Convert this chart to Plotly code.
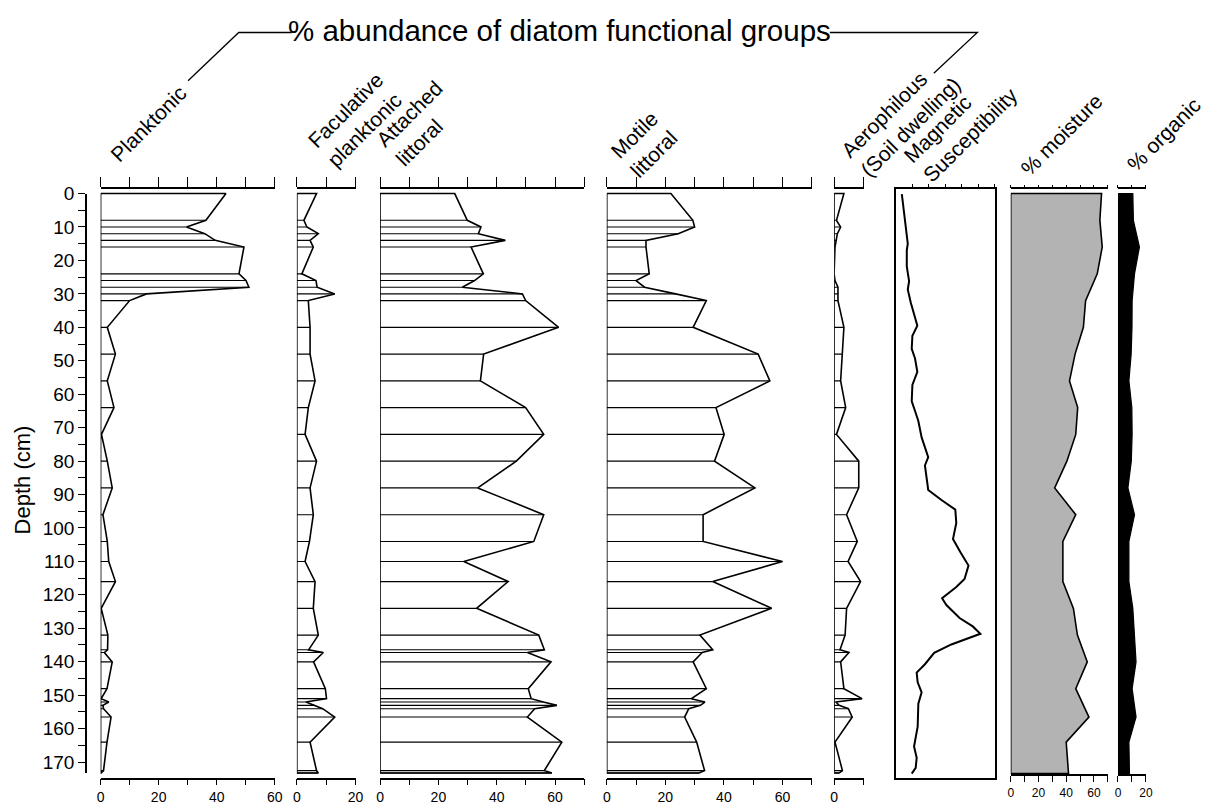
import plotly.graph_objects as go

# page is 1224x805; the plot div sits inside the default 8px body margin
PAGE_OFF = 8
W, H = 1224 - PAGE_OFF, 805 - PAGE_OFF

# ---------------- data ----------------
diatom_depth = [0, 8, 10, 12, 14, 16, 24, 26, 28, 30, 32, 40, 48, 56, 64, 72, 80, 88,
                96, 104, 110, 116, 124, 132, 136.4, 137.2, 140, 148, 151, 152, 153, 154,
                156.5, 164, 172.5, 173.2]
planktonic = [43.2, 36.3, 29.6, 35.9, 39.5, 49.4, 47.7, 50.1, 51.1, 15.8, 10.0, 2.3, 5.1,
              2.3, 4.6, 0.3, 2.3, 4.0, 0.8, 2.3, 2.8, 5.1, 0.2, 2.5, 2.4, 1.3, 4.0, 2.2,
              0.2, 2.8, 0.8, 1.0, 3.6, 2.2, 1.0, 0.2]
facultative = [6.7, 2.4, 3.4, 7.3, 4.5, 5.6, 1.7, 6.5, 6.9, 12.9, 3.9, 4.5, 4.5, 6.2, 3.9,
               2.8, 6.7, 4.5, 5.6, 4.3, 2.8, 6.2, 5.6, 7.3, 4.0, 9.0, 5.7, 9.7, 10.1, 3.1,
               6.0, 8.8, 12.9, 4.5, 6.7, 7.3]
attached = [25.6, 29.9, 34.6, 33.7, 42.9, 31.2, 35.4, 32.4, 28.2, 48.8, 49.9, 61.2, 35.5,
            34.4, 49.9, 56.1, 46.7, 33.5, 56.1, 52.7, 28.7, 43.9, 33.1, 54.4, 56.3, 50.5,
            58.6, 50.8, 51.8, 56.0, 60.6, 53.0, 50.5, 62.3, 56.3, 58.9]
motile = [21.9, 29.4, 30.0, 24.4, 13.4, 13.4, 14.5, 10.0, 12.9, 23.5, 34.0, 29.5, 51.7,
          55.7, 37.3, 40.1, 36.8, 50.6, 32.9, 32.9, 60.0, 36.2, 56.3, 31.8, 36.2, 32.6,
          29.5, 34.0, 28.9, 33.5, 32.0, 28.0, 26.6, 30.7, 33.4, 31.5]
aerophilous = [3.3, 0.8, 2.2, 1.1, 0.6, 0.3, 0.0, 0.3, 1.3, 1.3, 1.3, 3.3, 2.8, 2.2, 3.9,
               0.8, 8.3, 8.3, 4.2, 7.8, 4.7, 8.9, 4.2, 3.7, 2.0, 5.0, 2.2, 3.3, 9.4, 0.6,
               1.7, 4.8, 6.1, 0.3, 2.8, 1.7]

magsus_depth = [0.2, 4.1, 9, 15, 17, 21.8, 26.2, 28.7, 32.6, 36.6, 39.5, 42.5, 46.4, 49.3,
                53.3, 57.2, 62.1, 65, 68, 72.9, 75.9, 78.8, 81.3, 85.7, 88.6, 91.6, 94.5,
                98.5, 101.4, 103.3, 107.3, 111.2, 115.2, 117.6, 121, 123, 126.9, 129.4,
                131.6, 134.8, 137.3, 140.7, 143.2, 146.1, 149.1, 152.5, 159.4, 162.3,
                165.3, 168.7, 171.7, 173.4]
magsus = [0.36, 0.46, 0.6, 0.72, 0.66, 0.66, 0.8, 0.72, 0.9, 1.12, 1.3, 1.0, 0.96, 1.16,
          1.3, 1.0, 0.96, 1.16, 1.36, 1.56, 1.76, 1.96, 1.76, 1.86, 1.96, 2.76, 3.6, 3.66,
          3.56, 3.46, 3.92, 4.4, 4.16, 3.66, 2.8, 3.06, 3.86, 4.66, 5.12, 3.36, 2.32, 1.76,
          1.26, 1.32, 1.56, 1.36, 1.32, 1.22, 1.1, 1.26, 1.2, 0.96]

sed_depth = [0, 8, 16, 24, 32, 40, 48, 56, 64, 72, 80, 88, 96, 104, 116, 124, 132, 140,
             148, 156.5, 164, 173.4]
moisture = [65.5, 64.3, 66.0, 62.4, 54.0, 52.4, 46.4, 42.4, 48.3, 46.9, 40.5, 31.7, 46.9,
            37.6, 37.6, 45.2, 48.1, 55.2, 46.9, 56.4, 40.0, 41.7]
organic = [10.6, 11.0, 15.3, 11.8, 10.1, 10.0, 9.4, 7.8, 9.9, 10.1, 9.5, 7.1, 11.8, 7.8,
           7.8, 10.6, 11.5, 12.9, 10.1, 12.9, 7.8, 8.2]

depth_ticks = list(range(0, 175, 5))
depth_ticklabels = [str(v) if v % 10 == 0 else "" for v in depth_ticks]

panel_titles = ["Planktonic", "Faculative<br>planktonic", "Attached<br>littoral",
                "Motile<br>littoral", "Aerophilous<br>(Soil dwelling)",
                "Magnetic<br>Susceptibility", "% moisture", "% organic"]
main_title = "% abundance of diatom functional groups"
depth_title = "Depth (cm)"

# ---------------- layout helpers ----------------
FONT = "Liberation Sans, Arial, sans-serif"
NARROW = "Liberation Sans Narrow, Arial Narrow, Liberation Sans, Arial, sans-serif"


def fx(p):  # page pixel x -> paper
    return (p - PAGE_OFF) / W


def fy(p):  # page pixel y -> paper
    return 1 - (p - PAGE_OFF) / H


PX_PER_CM = 3.392
Y0 = 186.0  # page pixel of depth 0


def dep(p):
    return (p - Y0) / PX_PER_CM


# (left px, right px, max value, top px, bottom px)
panels = [
    (97.5, 273.3, 60, 181.7, 778.3),
    (295.7, 355.0, 20, 181.7, 778.3),
    (379.7, 586.0, 70, 181.7, 778.3),
    (608.7, 815.7, 70, 181.7, 778.3),
    (838.3, 868.3, 10, 181.7, 778.3),
    (900.7, 1000.7, 6, 181.7, 778.3),
    (1016.7, 1114.7, 70, 181.7, 775.0),
    (1125.0, 1153.3, 20, 181.7, 775.0),
]


def xid(n):
    return "x" if n == 1 else f"x{n}"


def yid(n):
    return "y" if n == 1 else f"y{n}"


def xkey(n):
    return "xaxis" if n == 1 else f"xaxis{n}"


def ykey(n):
    return "yaxis" if n == 1 else f"yaxis{n}"


fig = go.Figure()
layout = {}

diatoms = [planktonic, facultative, attached, motile, aerophilous]

for i, vals in enumerate(diatoms, start=1):
    bx, by = [], []
    for d, v in zip(diatom_depth, vals):
        bx += [0, v, None]
        by += [d, d, None]
    fig.add_trace(go.Scatter(x=bx, y=by, mode="lines", xaxis=xid(i), yaxis=yid(i),
                             line=dict(color="black", width=1.1), hoverinfo="skip",
                             showlegend=False))
    ox = [0] + list(vals) + [0, 0]
    oy = [diatom_depth[0]] + list(diatom_depth) + [diatom_depth[-1], diatom_depth[0]]
    fig.add_trace(go.Scatter(x=ox, y=oy, mode="lines", xaxis=xid(i), yaxis=yid(i),
                             line=dict(color="black", width=1.6), hoverinfo="skip",
                             showlegend=False))

fig.add_trace(go.Scatter(x=magsus, y=magsus_depth, mode="lines", xaxis=xid(6), yaxis=yid(6),
                         line=dict(color="black", width=2), showlegend=False))

mx = [0] + moisture + [0, 0]
my = [sed_depth[0]] + sed_depth + [sed_depth[-1], sed_depth[0]]
fig.add_trace(go.Scatter(x=mx, y=my, mode="lines", fill="toself", fillcolor="#b3b3b3",
                         xaxis=xid(7), yaxis=yid(7), line=dict(color="black", width=1.6),
                         showlegend=False))
gx = [0] + organic + [0, 0]
fig.add_trace(go.Scatter(x=gx, y=my, mode="lines", fill="toself", fillcolor="black",
                         xaxis=xid(8), yaxis=yid(8), line=dict(color="black", width=1.2),
                         showlegend=False))

for i in [1, 2, 3, 4, 5, 7, 8]:
    fig.add_trace(go.Scatter(x=[None], y=[None], xaxis=xid(10 + i), yaxis=yid(i),
                             showlegend=False, hoverinfo="skip"))

for i, (l, r, vmax, tp, bt) in enumerate(panels, start=1):
    yr = [dep(bt), dep(tp)]
    layout[ykey(i)] = dict(domain=[fy(bt), fy(tp)], range=yr, anchor=xid(i),
                           visible=(i == 6), showgrid=False, zeroline=False,
                           showticklabels=False, ticks="", showline=(i == 6),
                           mirror=True, linecolor="black", linewidth=2)
    tv = list(range(0, vmax + 1, 10)) if vmax >= 10 else list(range(0, vmax + 1))
    if i <= 5:
        tt = [str(v) if v % 20 == 0 else "" for v in tv]
        layout[xkey(i)] = dict(domain=[fx(l), fx(r)], range=[0, vmax], anchor=yid(i),
                               side="bottom", showgrid=False, zeroline=False,
                               showline=True, linecolor="black", linewidth=1.6,
                               ticks="outside", ticklen=6, tickwidth=1.4, tickcolor="black",
                               tickvals=tv, ticktext=tt,
                               tickfont=dict(family=FONT, size=14, color="black"))
        layout[xkey(10 + i)] = dict(overlaying=xid(i), anchor=yid(i), side="top",
                                    range=[0, vmax], showgrid=False, zeroline=False,
                                    showline=True, linecolor="black", linewidth=1.8,
                                    ticks="outside", ticklen=10, tickwidth=1.4,
                                    tickcolor="black", tickvals=tv, showticklabels=False)
    elif i == 6:
        layout[xkey(i)] = dict(domain=[fx(l), fx(r)], range=[0, vmax], anchor=yid(i),
                               side="top", showgrid=False, zeroline=False,
                               showline=True, mirror=True, linecolor="black", linewidth=2,
                               ticks="outside", ticklen=3, tickwidth=1.4, tickcolor="black",
                               tickvals=list(range(1, vmax + 1)), showticklabels=False)
    else:
        tt = [str(v) if v % 20 == 0 else "" for v in tv]
        layout[xkey(i)] = dict(domain=[fx(l), fx(r)], range=[0, vmax], anchor=yid(i),
                               side="bottom", showgrid=False, zeroline=False,
                               showline=True, linecolor="black", linewidth=1.6,
                               ticks="outside", ticklen=6, tickwidth=1.2, tickcolor="black",
                               tickvals=tv, ticktext=tt,
                               tickfont=dict(family=NARROW, size=12, color="black"))
        layout[xkey(10 + i)] = dict(overlaying=xid(i), anchor=yid(i), side="top",
                                    range=[0, vmax], showgrid=False, zeroline=False,
                                    showline=True, linecolor="black", linewidth=1.6,
                                    ticks="outside", ticklen=3, tickwidth=1.2,
                                    tickcolor="black", tickvals=tv, showticklabels=False)

# depth axis
fig.add_trace(go.Scatter(x=[None], y=[None], xaxis=xid(9), yaxis=yid(9), showlegend=False))
layout[xkey(9)] = dict(domain=[0, 0.01], visible=False, anchor=yid(9))
layout[ykey(9)] = dict(domain=[fy(773.3), fy(186)], range=[173.2, 0], anchor="free",
                       position=fx(82.7), side="left", showgrid=False, zeroline=False,
                       showline=True, linecolor="black", linewidth=1.6,
                       ticks="outside", ticklen=7, tickwidth=1.4, tickcolor="black",
                       tickvals=depth_ticks, ticktext=depth_ticklabels,
                       tickfont=dict(family=FONT, size=19, color="black"))

header_pos = [(146, 115), (354, 111), (419, 114), (646.5, 136), (905.5, 108),
              (966, 116.5), (1068, 126), (1171, 126)]
annotations = []
for txt, (cx, cy) in zip(panel_titles, header_pos):
    annotations.append(dict(text=txt, x=fx(cx), y=fy(cy), xref="paper", yref="paper",
                            xanchor="center", yanchor="middle", textangle=-45,
                            align="left", showarrow=False,
                            font=dict(family=FONT, size=21, color="black")))
annotations.append(dict(text=main_title, x=fx(561), y=fy(21), xref="paper", yref="paper",
                        xanchor="center", yanchor="middle", showarrow=False,
                        font=dict(family=FONT, size=29.5, color="black")))
annotations.append(dict(text=depth_title, x=fx(19), y=fy(476), xref="paper", yref="paper",
                        xanchor="center", yanchor="middle", textangle=-90, showarrow=False,
                        font=dict(family=FONT, size=22, color="black")))

shapes = [
    dict(type="path", xref="paper", yref="paper",
         path=f"M {fx(290.5)} {fy(22.7)} L {fx(237)} {fy(22.7)} L {fx(185.8)} {fy(71.7)}",
         line=dict(color="black", width=1.3)),
    dict(type="path", xref="paper", yref="paper",
         path=f"M {fx(834)} {fy(22.7)} L {fx(983)} {fy(22.7)} L {fx(939)} {fy(64)}",
         line=dict(color="black", width=1.3)),
]

fig.update_layout(width=W, height=H, margin=dict(l=0, r=0, t=0, b=0, pad=0),
                  paper_bgcolor="white", plot_bgcolor="rgba(0,0,0,0)",
                  showlegend=False, annotations=annotations, shapes=shapes,
                  font=dict(family=FONT, color="black"), **layout)

fig.write_html("out.html", config={"displayModeBar": False})
